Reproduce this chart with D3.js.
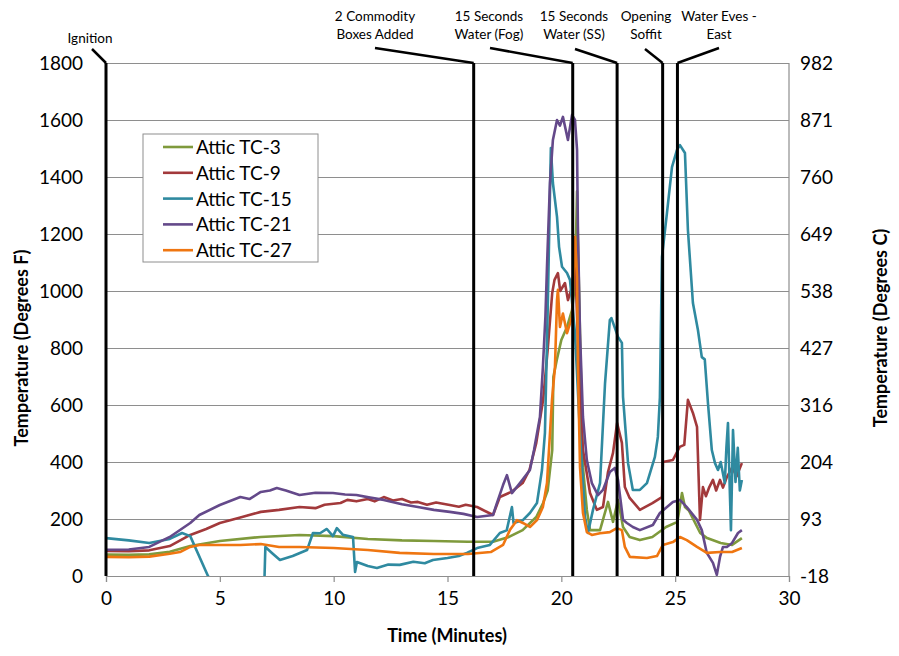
<!DOCTYPE html>
<html><head><meta charset="utf-8">
<script src="https://cdn.jsdelivr.net/npm/d3@7"></script>
<style>
body{margin:0;background:#fff}
svg{display:block}
text{font-family:Lato,"Open Sans",sans-serif;fill:#000}
</style>
</head><body>
<svg id="c" width="899" height="656"></svg>
<script>
// ---------------- data ----------------
const seriesNames = ["Attic TC-3","Attic TC-9","Attic TC-15","Attic TC-21","Attic TC-27"];
const seriesColors = ["#7f9a3c","#a2393b","#2f8aa0","#64498a","#ef7611"];

const tc3 = [[0,75],[1,74],[1.9,76],[2.8,85],[3.7,105],[5.0,123],[6.8,137],[8.5,144],[10,140],[11.5,130],[13,125],[14.4,123],[15.9,120],[17,120],[17.7,137],[18.3,161],[18.9,207],[19.2,256],[19.4,300],[19.6,442],[19.65,698],[19.8,758],[20.0,828],[20.25,874],[20.47,933],[20.6,1028],[20.69,1350],[20.75,1100],[20.95,382],[21.12,232],[21.26,161],[21.7,161],[22.05,260],[22.27,190],[22.49,267],[22.71,172],[23.0,137],[23.45,126],[24.0,137],[24.6,172],[25.1,190],[25.3,291],[25.43,242],[25.6,230],[26.1,151],[26.4,133],[27,116],[27.5,109],[27.93,133]];

const tc9 = [[0,88],[1,87],[1.9,90],[2.8,105],[3.7,144],[4.4,165],[5.0,186],[5.9,205],[6.8,225],[7.6,232],[8.5,242],[9.2,238],[9.6,250],[10.3,256],[10.6,267],[11.0,262],[11.5,270],[11.8,262],[12.2,277],[12.6,265],[13.0,270],[13.4,258],[13.7,260],[14.1,250],[14.5,258],[15.1,249],[15.5,243],[15.8,250],[16.3,242],[17.0,214],[17.3,277],[17.8,295],[18.3,326],[18.6,372],[18.9,467],[19.2,618],[19.4,793],[19.6,993],[19.7,1039],[19.85,1063],[19.95,1000],[20.16,1028],[20.29,968],[20.47,1014],[20.6,1119],[20.82,618],[20.95,442],[21.26,291],[21.56,232],[21.83,242],[22.05,365],[22.27,432],[22.45,537],[22.66,467],[22.79,312],[23.0,274],[23.45,232],[24.0,256],[24.42,277],[24.46,400],[24.9,407],[25.2,453],[25.4,460],[25.56,618],[25.78,572],[25.96,523],[26.09,197],[26.22,312],[26.35,280],[26.5,312],[26.66,337],[26.8,300],[26.97,337],[27.1,310],[27.27,347],[27.5,380],[27.7,350],[27.93,396]];

const tc15 = [[0,133],[1,125],[1.9,116],[2.8,130],[3.34,151],[3.7,140],[4.48,0],[4.8,-40],[6.95,-40],[7.0,102],[7.3,80],[7.64,56],[8.2,70],[8.83,91],[9.09,151],[9.4,150],[9.7,165],[9.97,140],[10.14,168],[10.4,145],[10.85,137],[10.94,14],[11.02,49],[11.5,35],[11.9,28],[12.4,40],[12.9,39],[13.5,50],[14.0,45],[14.36,56],[15.0,63],[15.5,70],[15.85,81],[16.3,98],[16.86,109],[17.3,151],[17.6,160],[17.83,242],[17.9,186],[18.31,196],[18.62,221],[18.93,256],[19.15,372],[19.28,502],[19.41,968],[19.54,1502],[19.63,1379],[19.81,1260],[19.9,1155],[20.03,1085],[20.25,1063],[20.38,1039],[20.6,852],[20.82,502],[21.04,207],[21.17,151],[21.39,232],[21.7,326],[21.92,677],[22.13,898],[22.2,905],[22.49,839],[22.66,818],[22.71,628],[22.93,396],[23.14,302],[23.45,302],[23.76,326],[24.11,418],[24.24,488],[24.33,628],[24.42,1119],[24.64,1274],[24.86,1435],[25.08,1495],[25.21,1512],[25.43,1484],[25.56,1214],[25.78,958],[26.0,863],[26.17,768],[26.3,760],[26.44,607],[26.61,442],[26.75,396],[26.88,372],[27.0,400],[27.18,326],[27.25,450],[27.32,537],[27.4,300],[27.45,161],[27.54,512],[27.65,330],[27.75,450],[27.84,300],[27.93,337]];

const tc21 = [[0,92],[1,93],[1.9,102],[2.8,137],[3.7,186],[4.1,214],[5.0,249],[5.9,277],[6.3,270],[6.8,295],[7.2,300],[7.5,309],[7.9,300],[8.5,284],[9.2,292],[9.97,291],[10.5,286],[11.0,284],[11.6,275],[12.2,267],[13.0,252],[13.7,242],[14.4,232],[15.1,225],[15.7,218],[16.3,207],[17.0,214],[17.17,256],[17.44,319],[17.61,354],[17.83,291],[18.18,326],[18.62,372],[18.8,442],[19.06,558],[19.19,733],[19.3,909],[19.37,1085],[19.5,1379],[19.63,1530],[19.81,1600],[19.94,1580],[20.07,1611],[20.29,1530],[20.47,1618],[20.6,1600],[20.69,1495],[20.73,1204],[20.82,852],[20.95,558],[21.12,407],[21.34,326],[21.61,284],[21.83,302],[22.13,365],[22.35,379],[22.49,337],[22.71,197],[22.88,186],[23.14,172],[23.45,161],[24.02,179],[24.33,221],[24.9,260],[25.21,267],[25.51,242],[25.96,197],[26.17,161],[26.39,81],[26.66,46],[26.83,4],[26.97,67],[27.1,102],[27.27,102],[27.5,116],[27.76,151],[27.93,161]];

const tc27 = [[0,67],[1,66],[1.9,68],[2.8,78],[3.25,84],[3.7,102],[4.1,109],[5.9,109],[6.8,112],[7.6,102],[8.5,102],[10,98],[11.5,91],[12.9,81],[14.4,77],[15.9,77],[16.9,84],[17.44,109],[17.74,161],[18.05,196],[18.31,186],[18.62,172],[18.93,196],[19.19,242],[19.37,326],[19.59,618],[19.72,733],[19.81,968],[19.85,1004],[19.94,874],[20.07,921],[20.25,852],[20.47,909],[20.6,1190],[20.69,1050],[20.73,733],[20.82,382],[20.95,221],[21.12,154],[21.34,144],[21.7,150],[22.13,154],[22.44,168],[22.66,161],[22.79,102],[23.01,67],[23.76,63],[24.2,70],[24.46,109],[24.9,119],[25.21,137],[25.51,126],[25.96,102],[26.39,81],[26.97,84],[27.5,84],[27.93,98]];

const xTicks = [0,5,10,15,20,25,30];
const yTicksF = [0,200,400,600,800,1000,1200,1400,1600,1800];
const yTicksC = ["-18","93","204","316","427","538","649","760","871","982"];

const eventTimes = [0,16.15,20.5,22.45,24.45,25.1];
const eventLabels = [["Ignition"],["2 Commodity","Boxes Added"],["15 Seconds","Water (Fog)"],["15 Seconds","Water (SS)"],["Opening","Soffit"],["Water Eves -","East"]];

// ---------------- layout ----------------
const m = {left:106, right:789, top:63, bottom:576};
const labelCx = [90,375,489,574,646,719];
const leaderStart = [[92,49],[375,48],[490,48],[575,49],[645,49],[719,48]];

const svg = d3.select("#c");
const x = d3.scaleLinear().domain([0,30]).range([m.left,m.right]);
const y = d3.scaleLinear().domain([0,1800]).range([m.bottom,m.top]);

// gridlines
svg.append("g").attr("transform",`translate(${m.left},0)`)
  .call(d3.axisLeft(y).tickValues(yTicksF).tickSize(-(m.right-m.left)).tickFormat(""))
  .call(g=>g.select(".domain").remove())
  .call(g=>g.selectAll("line").attr("stroke","#8e8e8e").attr("stroke-width",1.2));
svg.append("line").attr("x1",m.right).attr("x2",m.right).attr("y1",m.top).attr("y2",m.bottom)
  .attr("stroke","#8e8e8e").attr("stroke-width",1.2);

// x axis
svg.append("g").attr("transform",`translate(0,${m.bottom})`)
  .call(d3.axisBottom(x).tickValues(xTicks).tickSize(6).tickPadding(10).tickFormat(d3.format("d")))
  .call(g=>g.select(".domain").attr("stroke","#8e8e8e").attr("stroke-width",1.2))
  .call(g=>g.selectAll("line").attr("stroke","#8e8e8e").attr("stroke-width",1.2))
  .call(g=>g.selectAll("text").attr("font-size",19).attr("font-family","Lato"));

// left labels
svg.append("g").attr("transform",`translate(${m.left},0)`)
  .call(d3.axisLeft(y).tickValues(yTicksF).tickSize(0).tickPadding(23).tickFormat(d3.format("d")))
  .call(g=>g.select(".domain").remove())
  .call(g=>g.selectAll("text").attr("font-size",19).attr("font-family","Lato"));

// right labels
svg.append("g").attr("transform",`translate(${m.right},0)`)
  .call(d3.axisRight(y).tickValues(yTicksF).tickSize(0).tickPadding(11).tickFormat((d,i)=>yTicksC[i]))
  .call(g=>g.select(".domain").remove())
  .call(g=>g.selectAll("text").attr("font-size",19).attr("font-family","Lato"));

// titles
svg.append("text").attr("transform","translate(28,348) rotate(-90)").attr("text-anchor","middle")
  .attr("font-weight","bold").attr("font-size",18).text("Temperature (Degrees F)");
svg.append("text").attr("transform","translate(887,328) rotate(-90)").attr("text-anchor","middle")
  .attr("font-weight","bold").attr("font-size",18).text("Temperature (Degrees C)");
svg.append("text").attr("x",447).attr("y",642).attr("text-anchor","middle")
  .attr("font-weight","bold").attr("font-size",18).text("Time (Minutes)");

// data lines
svg.append("clipPath").attr("id","clip").append("rect")
  .attr("x",m.left).attr("y",m.top-5).attr("width",m.right-m.left).attr("height",m.bottom-m.top+5);
const line = d3.line().x(d=>x(d[0])).y(d=>y(d[1]));
const allSeries = [tc3,tc9,tc15,tc21,tc27];
svg.append("g").attr("clip-path","url(#clip)").selectAll("path").data(allSeries).join("path")
  .attr("d",line).attr("fill","none").attr("stroke",(d,i)=>seriesColors[i])
  .attr("stroke-width",2.6).attr("stroke-linejoin","round");

// events
const ev = svg.append("g");
eventTimes.forEach((t,i)=>{
  ev.append("line").attr("x1",x(t)).attr("x2",x(t)).attr("y1",y(1800)).attr("y2",y(0))
    .attr("stroke","#000").attr("stroke-width",3);
  ev.append("line").attr("x1",leaderStart[i][0]).attr("y1",leaderStart[i][1])
    .attr("x2",x(t)).attr("y2",y(1800)).attr("stroke","#000").attr("stroke-width",2.5);
  const lab = eventLabels[i];
  lab.forEach((s,j)=>{
    const base = lab.length===1 ? 43 : 21+j*18;
    ev.append("text").attr("x",labelCx[i]).attr("y",base).attr("text-anchor","middle")
      .attr("font-size",13.5).text(s);
  });
});

// legend
const lg = svg.append("g");
lg.append("rect").attr("x",143).attr("y",134).attr("width",175).attr("height",128)
  .attr("fill","#fff").attr("stroke","#8e8e8e").attr("stroke-width",1);
seriesNames.forEach((n,i)=>{
  const cy = 147+i*25.8;
  lg.append("line").attr("x1",163).attr("x2",193).attr("y1",cy).attr("y2",cy)
    .attr("stroke",seriesColors[i]).attr("stroke-width",2.6);
  lg.append("text").attr("x",196).attr("y",cy+7).attr("font-size",19).text(n);
});
</script>
</body></html>
